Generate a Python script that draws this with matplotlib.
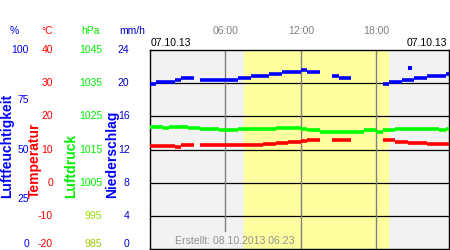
import numpy as np
import matplotlib
matplotlib.use('Agg')
import matplotlib.pyplot as plt
from matplotlib.transforms import blended_transform_factory

plt.rcParams['font.family'] = ['Liberation Sans', 'DejaVu Sans']

nan = np.nan

# half-hourly readings, 07.10.13
hours = np.arange(0, 24, 0.5)
humidity = [83, 84, 84, 84, 85, 86, 86, nan, 85, 85, 85, 85, 85, 85, 86, 86,
            87, 87, 87, 88, 88, 89, 89, 89, 90, 89, 89, nan, nan, 87, 86, 86,
            nan, nan, nan, nan, nan, 83, 84, 84, 85, 85, 86, 86, 87, 87, 87, 88]
temperature = [11.0, 11.0, 11.0, 11.0, 10.9, 11.4, 11.4, nan,
               11.4, 11.4, 11.4, 11.4, 11.4, 11.4, 11.4, 11.4, 11.4, 11.4,
               11.7, 11.7, 12.0, 12.0, 12.3, 12.3, 12.6, 12.8, 12.8, nan, nan,
               12.8, 12.8, 12.8, nan, nan, nan, nan, nan,
               12.8, 12.8, 12.3, 12.3, 12.1, 12.1, 12.1, 11.8, 11.8, 11.8, 11.8]
pressure = [1021.8, 1021.8, 1021.5, 1021.7, 1021.7, 1021.8, 1021.6, 1021.6,
            1021.2, 1021.2, 1021.2, 1020.9, 1020.9, 1020.9, 1021.2, 1021.2,
            1021.2, 1021.2, 1021.2, 1021.2, 1021.5, 1021.4, 1021.4, 1021.4,
            1021.2, 1020.8, 1020.8, 1020.4, 1020.4, 1020.4, 1020.4, 1020.4,
            1020.4, 1020.4, 1020.8, 1020.8, 1020.4, 1020.9, 1020.9, 1021.2,
            1021.2, 1021.2, 1021.2, 1021.2, 1021.2, 1021.2, 1020.9, 1021.2]
outlier_hour = [20.7]
outlier_hum = [91]

sunrise, sunset = 7.48, 18.93

hum_ticks = [0, 25, 50, 75, 100]
temp_ticks = [-20, -10, 0, 10, 20, 30, 40]
pres_ticks = [985, 995, 1005, 1015, 1025, 1035, 1045]
rain_ticks = [0, 4, 8, 12, 16, 20, 24]
time_ticks = [6, 12, 18]
time_labels = ['06:00', '12:00', '18:00']

fig = plt.figure(figsize=(4.5, 2.5), dpi=100)
ax = fig.add_axes([150 / 450, 1 - 249.3 / 250, 299 / 450, 199.3 / 250])
ax.set_facecolor('#f2f2f2')
ax.set_xlim(0, 23.77)
ax.set_ylim(-20, 40)
ax.set_xticks([])
ax.set_yticks([])
for s in ax.spines.values():
    s.set_color('black')
    s.set_linewidth(1.0)

ax.axvspan(sunrise, sunset, color='#ffffa0', zorder=0)
for t in [-10, 0, 10, 20, 30]:
    ax.axhline(t, color='black', lw=0.9, zorder=1)
ax.axvline(6, ymin=0.092, ymax=1, color='#808080', lw=1.0, zorder=1)
ax.axvline(12, color='#808080', lw=1.0, zorder=1)
ax.axvline(18, color='#808080', lw=1.0, zorder=1)

ax_h = ax.twinx()
ax_h.set_ylim(0, 100)
ax_p = ax.twinx()
ax_p.set_ylim(985, 1045)
ax_r = ax.twinx()
ax_r.set_ylim(0, 24)
for a in (ax_h, ax_p, ax_r):
    a.axis('off')


def dashes(a, values, color):
    v = np.array(values, dtype=float)
    ok = ~np.isnan(v)
    a.hlines(v[ok], hours[ok], hours[ok] + 0.5, colors=color, lw=2.6,
             zorder=3)


dashes(ax_p, pressure, '#00ff00')
dashes(ax, temperature, '#ff0000')
dashes(ax_h, humidity, '#0000ff')
ax_h.scatter(outlier_hour, outlier_hum, marker='s', s=6, color='#0000ff',
             zorder=3, linewidths=0)

# left scale columns
def column(a, ticks, xright, colors):
    tr = blended_transform_factory(fig.transFigure, a.transData)
    for i, v in enumerate(ticks):
        a.text(xright, v, str(v), transform=tr, ha='right',
               va='bottom' if i == 0 else 'center', fontsize=7.5,
               color=colors[i], clip_on=False)


column(ax_h, hum_ticks, 29 / 450, ['#0000ff'] * 5)
column(ax, temp_ticks, 53 / 450, ['#ff0000'] * 7)
column(ax_p, pres_ticks, 102 / 450,
       ['#99cc00', '#99dd00'] + ['#00ee00'] * 5)
column(ax_r, rain_ticks, 129.5 / 450, ['#0000cc'] * 7)

uy = 1 - 30.7 / 250
fig.text(14 / 450, uy, '%', color='#0000ff', ha='center', va='center', fontsize=7.5)
fig.text(46.7 / 450, uy, '°C', color='#ff0000', ha='center', va='center', fontsize=7.5)
fig.text(90 / 450, uy, 'hPa', color='#00ee00', ha='center', va='center', fontsize=7.5)
fig.text(132 / 450, uy, 'mm/h', color='#0000cc', ha='center', va='center', fontsize=7.5)

ty = 1 - 198 / 250
fig.text(7 / 450, ty, 'Luftfeuchtigkeit', color='#0000ff', rotation=90,
         ha='center', va='bottom', fontsize=10, fontweight='bold')
fig.text(35 / 450, ty, 'Temperatur', color='#ff0000', rotation=90,
         ha='center', va='bottom', fontsize=10, fontweight='bold')
fig.text(70.7 / 450, ty, 'Luftdruck', color='#00ee00', rotation=90,
         ha='center', va='bottom', fontsize=10, fontweight='bold')
fig.text(112 / 450, ty, 'Niederschlag', color='#0000ff', rotation=90,
         ha='center', va='bottom', fontsize=10, fontweight='bold')

# time labels above the plot
ttr = blended_transform_factory(ax.transData, fig.transFigure)
for t, lab in zip(time_ticks, time_labels):
    ax.text(t, uy, lab, transform=ttr, ha='center', va='center',
            fontsize=7.5, color='#808080')

dy = 1 - 43.3 / 250
fig.text(151 / 450, dy, '07.10.13', ha='left', va='center', fontsize=7.5)
fig.text(447 / 450, dy, '07.10.13', ha='right', va='center', fontsize=7.5)

ax.text(1.97, 1 - 240.7 / 250, 'Erstellt: 08.10.2013 06:23', transform=ttr,
        ha='left', va='center', fontsize=7.6, color='#909090', zorder=4)

fig.savefig('out.png', dpi=100)
